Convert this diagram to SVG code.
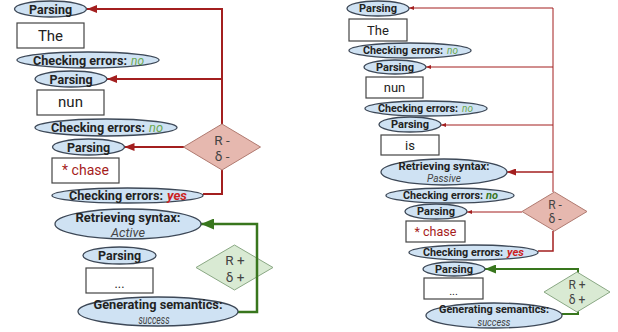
<svg xmlns="http://www.w3.org/2000/svg" width="618" height="332" viewBox="0 0 618 332">
<style>
text{font-family:Roboto,"Open Sans","Liberation Sans",sans-serif;text-anchor:middle;dominant-baseline:central;fill:#222}
text.s{text-anchor:start}
.el{fill:#cfe2f3;stroke:#3d4857;stroke-width:1.3}
.bx{fill:#fff;stroke:#444;stroke-width:1.2}
.b{font-weight:bold}
.L{font-size:12.5px}
.R{font-size:11px}
.wL{font-size:15px}
.wR{font-size:13px}
.no{font-style:italic;font-weight:normal;fill:#6aa84f}
.nob{font-style:italic;font-weight:bold;fill:#38761d}
.yes{font-style:italic;font-weight:bold;fill:#cc1f1f}
.sub{font-style:italic;font-weight:normal;fill:#444}
.err{fill:#a61c1c}
.rd{fill:#e6b8af;stroke:#b07a70;stroke-width:1}
.gd{fill:#d9ead3;stroke:#8aa884;stroke-width:1}
.dt{fill:#444}
.rl{fill:none;stroke:#a31f1f}
.gl{fill:none;stroke:#38761d}
</style>
<defs>
<marker id="ar" markerUnits="userSpaceOnUse" markerWidth="10" markerHeight="8" refX="10" refY="4" orient="auto" viewBox="0 0 10 8"><path d="M0,0 L10,4 L0,8 z" fill="#a31f1f"/></marker>
<marker id="arS" markerUnits="userSpaceOnUse" markerWidth="5" markerHeight="4" refX="5" refY="2" orient="auto" viewBox="0 0 5 4"><path d="M0,0 L5,2 L0,4 z" fill="#a31f1f"/></marker>
<marker id="arM" markerUnits="userSpaceOnUse" markerWidth="9" markerHeight="7" refX="9" refY="3.5" orient="auto" viewBox="0 0 9 7"><path d="M0,0 L9,3.5 L0,7 z" fill="#a31f1f"/></marker>
<marker id="ag" markerUnits="userSpaceOnUse" markerWidth="13" markerHeight="11" refX="13" refY="5.5" orient="auto" viewBox="0 0 13 11"><path d="M0,0 L13,5.5 L0,11 z" fill="#38761d"/></marker>
<marker id="agR" markerUnits="userSpaceOnUse" markerWidth="11" markerHeight="9" refX="11" refY="4.5" orient="auto" viewBox="0 0 11 9"><path d="M0,0 L11,4.5 L0,9 z" fill="#38761d"/></marker>
</defs>

<!-- LEFT PANEL -->
<g id="L-diamond-green"><polygon class="gd" points="234.5,245 273,267.5 234.5,290 196,267.5"/><text class="dt" x="235" y="260" font-size="13.5">R +</text><text class="dt" x="235" y="277" font-size="13.5">δ +</text></g>
<g id="connectors-left">
<path class="rl" stroke-width="2" d="M222,124 V9 H87" marker-end="url(#ar)"/>
<path class="rl" stroke-width="2" d="M222,79 H107" marker-end="url(#ar)"/>
<path class="rl" stroke-width="2" d="M184,147 H124.5" marker-end="url(#ar)"/>
<path class="rl" stroke-width="2" d="M222,170 V194 H203"/>
<path class="gl" stroke-width="2.5" d="M238,312 H257 V224 H201" marker-end="url(#ag)"/>
</g>
<g id="L-diamond-red"><polygon class="rd" points="222,124 260.5,147 222,170 183.5,147"/><text class="dt" x="222" y="140" font-size="13.5">R -</text><text class="dt" x="222" y="156" font-size="13.5">δ -</text></g>
<g id="L-parsing1"><ellipse class="el" cx="50.5" cy="9" rx="36" ry="8"/><text class="b L" x="50.5" y="9" textLength="43" lengthAdjust="spacingAndGlyphs">Parsing</text></g>
<g id="L-the"><rect class="bx" x="17" y="23" width="67" height="25"/><text class="wL" x="50.5" y="35.5">The</text></g>
<g id="L-check1"><ellipse class="el" cx="88" cy="60" rx="71" ry="8"/><text class="b L s" x="33" y="60" textLength="94" lengthAdjust="spacingAndGlyphs">Checking errors:</text><text class="L no s" x="131" y="60" textLength="13" lengthAdjust="spacingAndGlyphs">no</text></g>
<g id="L-parsing2"><ellipse class="el" cx="71" cy="79" rx="36" ry="8"/><text class="b L" x="71" y="79" textLength="43" lengthAdjust="spacingAndGlyphs">Parsing</text></g>
<g id="L-nun"><rect class="bx" x="37" y="90" width="67" height="25"/><text class="wL" x="70.5" y="102">nun</text></g>
<g id="L-check2"><ellipse class="el" cx="106" cy="127.5" rx="71" ry="8.5"/><text class="b L s" x="51" y="127.5" textLength="94" lengthAdjust="spacingAndGlyphs">Checking errors:</text><text class="L no s" x="149" y="127.5" textLength="14" lengthAdjust="spacingAndGlyphs">no</text></g>
<g id="L-parsing3"><ellipse class="el" cx="88.5" cy="147" rx="36" ry="8"/><text class="b L" x="88.5" y="147" textLength="43" lengthAdjust="spacingAndGlyphs">Parsing</text></g>
<g id="L-chase"><rect class="bx" x="52" y="158" width="67" height="25"/><text class="wL err" x="85.5" y="170" textLength="47" lengthAdjust="spacingAndGlyphs">* chase</text></g>
<g id="L-check3"><ellipse class="el" cx="127.5" cy="195.5" rx="75.5" ry="7.5"/><text class="b L s" x="69" y="195.5" textLength="94" lengthAdjust="spacingAndGlyphs">Checking errors:</text><text class="L yes s" x="167" y="195.5" textLength="20" lengthAdjust="spacingAndGlyphs">yes</text></g>
<g id="L-retrieve"><ellipse class="el" cx="128" cy="224" rx="73" ry="15"/><text class="b L" x="128" y="217" textLength="105" lengthAdjust="spacingAndGlyphs">Retrieving syntax:</text><text class="L sub" x="128" y="232" textLength="34" lengthAdjust="spacingAndGlyphs">Active</text></g>
<g id="L-parsing4"><ellipse class="el" cx="119.5" cy="255.5" rx="36.5" ry="8.5"/><text class="b L" x="119.5" y="255.5" textLength="43" lengthAdjust="spacingAndGlyphs">Parsing</text></g>
<g id="L-dots"><rect class="bx" x="86" y="268" width="67" height="25"/><text class="L" x="119.5" y="283">...</text></g>
<g id="L-generate"><ellipse class="el" cx="158" cy="311.5" rx="80" ry="14.5"/><text class="b L" x="158" y="304" textLength="129" lengthAdjust="spacingAndGlyphs">Generating semantics:</text><text class="sub" font-size="12" x="154" y="319.5" textLength="31" lengthAdjust="spacingAndGlyphs">success</text></g>

<!-- RIGHT PANEL -->
<g id="connectors-right">
<path class="rl" stroke-width="1" d="M553,192 V8 H409" marker-end="url(#arS)"/>
<path class="rl" stroke-width="1" d="M553,67 H426" marker-end="url(#arS)"/>
<path class="rl" stroke-width="1" d="M553,125 H441" marker-end="url(#arS)"/>
<path class="rl" stroke-width="1.5" d="M553,172 H507" marker-end="url(#arM)"/>
<path class="rl" stroke-width="1" d="M522,212 H467" marker-end="url(#arS)"/>
<path class="rl" stroke-width="1.5" d="M553,231 V251 H538"/>
<path class="gl" stroke-width="2" d="M562,314 H578 V269 H485" marker-end="url(#agR)"/>
</g>
<g id="R-diamond-red"><polygon class="rd" points="554.5,192 587,211.5 554.5,231 522,211.5"/><text class="dt" x="555" y="204.5" font-size="12">R -</text><text class="dt" x="555" y="219" font-size="12">δ -</text></g>
<g id="R-diamond-green"><polygon class="gd" points="577,272 610,292 577,312 544,292"/><text class="dt" x="577" y="285" font-size="12">R +</text><text class="dt" x="577" y="299.5" font-size="12">δ +</text></g>
<g id="R-parsing1"><ellipse class="el" cx="378" cy="8.5" rx="31" ry="7.5"/><text class="b R" x="378" y="8.5" textLength="38" lengthAdjust="spacingAndGlyphs">Parsing</text></g>
<g id="R-the"><rect class="bx" x="349" y="19" width="58" height="22"/><text class="wR" x="378" y="30">The</text></g>
<g id="R-check1"><ellipse class="el" cx="410" cy="50.5" rx="61" ry="7.5"/><text class="b R s" x="363" y="50.5" textLength="80" lengthAdjust="spacingAndGlyphs">Checking errors:</text><text class="R no s" x="447" y="50.5" textLength="11" lengthAdjust="spacingAndGlyphs">no</text></g>
<g id="R-parsing2"><ellipse class="el" cx="395" cy="67" rx="31" ry="7"/><text class="b R" x="395" y="67" textLength="38" lengthAdjust="spacingAndGlyphs">Parsing</text></g>
<g id="R-nun"><rect class="bx" x="366" y="77" width="57" height="21"/><text class="wR" x="394.5" y="87.5">nun</text></g>
<g id="R-check2"><ellipse class="el" cx="426" cy="108.5" rx="61" ry="7.5"/><text class="b R s" x="378" y="108.5" textLength="80" lengthAdjust="spacingAndGlyphs">Checking errors:</text><text class="R no s" x="462" y="108.5" textLength="11" lengthAdjust="spacingAndGlyphs">no</text></g>
<g id="R-parsing3"><ellipse class="el" cx="410" cy="124.5" rx="31" ry="7.5"/><text class="b R" x="410" y="124.5" textLength="38" lengthAdjust="spacingAndGlyphs">Parsing</text></g>
<g id="R-is"><rect class="bx" x="381" y="135" width="58" height="20"/><text class="wR" x="410" y="145">is</text></g>
<g id="R-retrieve"><ellipse class="el" cx="444" cy="172" rx="63" ry="13"/><text class="b R" x="444" y="166" textLength="91" lengthAdjust="spacingAndGlyphs">Retrieving syntax:</text><text class="sub" font-size="11" x="444" y="178.5" textLength="34" lengthAdjust="spacingAndGlyphs">Passive</text></g>
<g id="R-check3"><ellipse class="el" cx="450" cy="195.5" rx="64" ry="7.5"/><text class="b R s" x="403" y="195.5" textLength="80" lengthAdjust="spacingAndGlyphs">Checking errors:</text><text class="R nob s" x="486" y="195.5" textLength="12" lengthAdjust="spacingAndGlyphs">no</text></g>
<g id="R-parsing4"><ellipse class="el" cx="436" cy="211.5" rx="31" ry="7.5"/><text class="b R" x="436" y="211.5" textLength="38" lengthAdjust="spacingAndGlyphs">Parsing</text></g>
<g id="R-chase"><rect class="bx" x="406" y="221" width="59" height="21"/><text class="wR err" x="435.5" y="231.5" textLength="42" lengthAdjust="spacingAndGlyphs">* chase</text></g>
<g id="R-check4"><ellipse class="el" cx="473.5" cy="252.5" rx="64.5" ry="7.5"/><text class="b R s" x="423" y="252.5" textLength="80" lengthAdjust="spacingAndGlyphs">Checking errors:</text><text class="R yes s" x="507" y="252.5" textLength="17" lengthAdjust="spacingAndGlyphs">yes</text></g>
<g id="R-parsing5"><ellipse class="el" cx="454" cy="269" rx="31" ry="7"/><text class="b R" x="454" y="269" textLength="38" lengthAdjust="spacingAndGlyphs">Parsing</text></g>
<g id="R-dots"><rect class="bx" x="424" y="278" width="59" height="21"/><text class="R" x="453.5" y="291">...</text></g>
<g id="R-generate"><ellipse class="el" cx="494" cy="315.5" rx="68" ry="12.5"/><text class="b R" x="494" y="309" textLength="110" lengthAdjust="spacingAndGlyphs">Generating semantics:</text><text class="sub" font-size="10.5" x="494" y="322" textLength="33" lengthAdjust="spacingAndGlyphs">success</text></g>
</svg>
